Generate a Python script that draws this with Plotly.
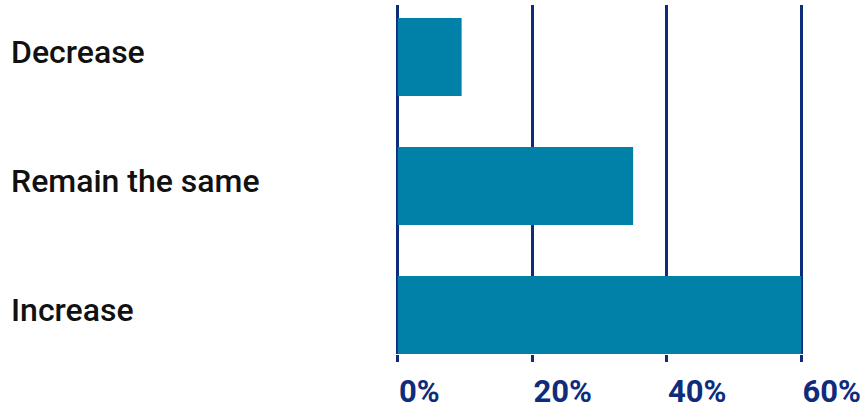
import plotly.graph_objects as go

categories = ["Decrease", "Remain the same", "Increase"]
shares = [9.5, 35, 60]
tick_values = [0, 20, 40, 60]
tick_labels = ["0%", "20%", "40%", "60%"]

BAR = "#0180a8"
NAVY = "#0f2c7c"

fig = go.Figure(
    go.Bar(
        x=shares,
        y=categories,
        orientation="h",
        marker=dict(color=BAR, line=dict(width=0)),
        width=0.605,
        hoverinfo="skip",
    )
)

# category names sit flush left, outside the plotting area
for name in categories:
    fig.add_annotation(
        x=0, xref="paper", xshift=-382, xanchor="left",
        y=name, yref="y", yanchor="middle", yshift=5,
        text=name, showarrow=False,
        font=dict(family="Roboto", size=32, color="#111111", weight=500),
    )

fig.update_layout(
    width=865,
    height=409,
    margin=dict(l=391, r=57, t=5, b=55, autoexpand=False),
    paper_bgcolor="white",
    plot_bgcolor="white",
    showlegend=False,
    xaxis=dict(
        range=[-1, 61],
        tickvals=tick_values,
        ticktext=tick_labels,
        showgrid=True,
        gridcolor=NAVY,
        gridwidth=2.5,
        zeroline=False,
        showline=False,
        ticks="outside",
        ticklen=7,
        tickwidth=2.5,
        tickcolor=NAVY,
        ticklabelposition="outside right",
        ticklabelstandoff=10,
        tickfont=dict(family="Roboto", size=31, color=NAVY, weight="bold"),
        automargin=False,
        fixedrange=True,
    ),
    yaxis=dict(
        categoryorder="array",
        categoryarray=categories,
        range=[2.302, -0.403],
        showticklabels=False,
        showgrid=False,
        zeroline=False,
        showline=False,
        automargin=False,
        fixedrange=True,
    ),
)

fig.write_html("out.html", config={"displayModeBar": False})
